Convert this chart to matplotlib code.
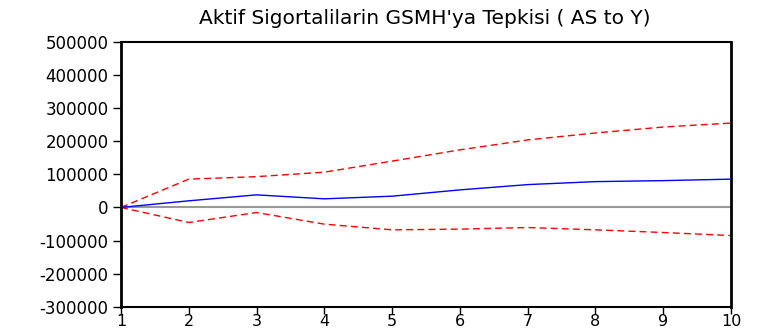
import numpy as np
import matplotlib
matplotlib.use("Agg")
import matplotlib.pyplot as plt

plt.rcParams['font.family'] = ['DejaVu Sans']

periods = [1, 2, 3, 4, 5, 6, 7, 8, 9, 10]
response = [0, 20000, 38000, 26000, 34000, 53000, 69000, 78000, 81000, 85500]
upper_band = [0, 85500, 93000, 106600, 140000, 174000, 204000, 225000, 243000, 255000]
lower_band = [0, -45500, -15400, -50500, -67700, -65600, -60700, -67700, -75800, -84900]
yticks = [-300000, -200000, -100000, 0, 100000, 200000, 300000, 400000, 500000]

fig = plt.figure(figsize=(7.58, 3.33), dpi=100)
ax = fig.add_axes([0.1596, 0.079, 0.8048, 0.7949])

ax.axhline(0, color='#999999', lw=1.5, zorder=1)
ax.plot(periods, upper_band, color='#ff0000', lw=1, ls=(0, (5, 3)), zorder=2)
ax.plot(periods, lower_band, color='#ff0000', lw=1, ls=(0, (5, 3)), zorder=2)
ax.plot(periods, response, color='#0000ff', lw=1, zorder=3)

ax.set_xlim(1, 10)
ax.set_ylim(-300000, 500000)
ax.set_xticks(periods)
ax.set_yticks(yticks)
ax.set_yticklabels([str(v) for v in yticks])
ax.tick_params(axis='y', direction='out', length=6, width=1, labelsize=12, pad=3)
ax.tick_params(axis='x', direction='out', length=5, width=1, labelsize=11.5, pad=0.5)

ax.spines['left'].set_linewidth(2)
ax.spines['right'].set_linewidth(2)
ax.spines['top'].set_linewidth(1.5)
ax.spines['bottom'].set_linewidth(1.5)

fig.text(0.561, 0.945, "Aktif Sigortalilarin GSMH'ya Tepkisi ( AS to Y)",
         ha='center', va='center', fontsize=14.5)

fig.savefig('out.png', dpi=100)
